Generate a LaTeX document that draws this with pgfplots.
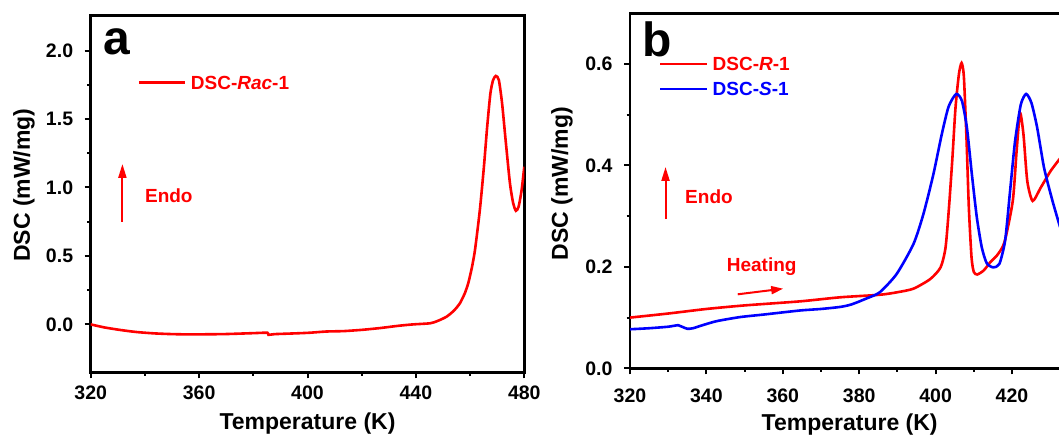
\documentclass[border=0pt]{standalone}
\usepackage{pgfplots}
\pgfplotsset{compat=1.18}
\usetikzlibrary{arrows.meta}
\usepackage{fontspec}
\setmainfont{Liberation Sans}

\pgfplotstableread{
T v
320 0.000
325 -0.022
331 -0.041
337 -0.056
343.7 -0.066
350 -0.071
356.4 -0.073
369 -0.071
380 -0.064
385.2 -0.061
385.6 -0.076
388 -0.071
395 -0.066
400.8 -0.061
407 -0.052
413.4 -0.049
420 -0.040
426.7 -0.027
433.7 -0.010
439 0.000
445.2 0.008
448 0.025
451.3 0.056
454 0.100
456.2 0.153
458 0.225
459.3 0.300
460.6 0.410
461.8 0.543
463.6 0.836
465.1 1.152
466.3 1.444
467.5 1.689
468.5 1.786
469.5 1.815
470.6 1.786
471.8 1.615
473.1 1.347
474.7 1.031
475.9 0.885
476.9 0.830
477.9 0.860
479.0 0.980
480.0 1.152
}\rac

\pgfplotstableread{
T v
320 0.100
330 0.108
340 0.117
350 0.124
364.5 0.132
375 0.140
385.4 0.145
390 0.150
394.2 0.157
398.6 0.176
401.3 0.199
402.6 0.238
403.5 0.317
404.4 0.415
405.2 0.513
406.1 0.580
406.8 0.602
407.4 0.575
408.1 0.450
408.7 0.317
409.4 0.219
410.0 0.190
410.9 0.185
412.6 0.193
414.4 0.210
416.0 0.222
418.0 0.248
420.2 0.330
421.2 0.428
422.1 0.503
423.0 0.461
424.0 0.369
425.4 0.330
427.5 0.356
430.1 0.389
432.6 0.414
}\rone

\pgfplotstableread{
T v
320 0.077
325 0.079
330 0.082
332.6 0.085
333.6 0.082
335.0 0.078
336.5 0.079
339 0.085
342.7 0.093
348.8 0.101
355 0.106
364.5 0.114
370 0.117
375 0.121
378 0.126
382 0.138
385.4 0.150
389.8 0.186
394.2 0.245
396.8 0.304
399.4 0.382
401.6 0.461
403.4 0.516
405.4 0.541
406.9 0.527
408.2 0.474
409.5 0.382
410.8 0.297
412.1 0.238
413.4 0.207
415.1 0.199
416.7 0.206
418.2 0.252
419.5 0.350
420.8 0.448
422.3 0.520
423.7 0.541
425.1 0.523
426.6 0.474
428.4 0.395
430.6 0.330
432.6 0.278
}\sone

\tikzset{ann/.style={red, inner sep=0pt, anchor=base west, font=\fontsize{19}{19}\selectfont\bfseries}}

\pgfplotsset{
  dsc/.style={
    scale only axis, anchor=south west,
    axis line style={line width=2.6pt},
    every tick/.style={black, line width=2pt},
    tick align=outside, major tick length=6pt, minor tick length=3.5pt,
    tick pos=left,
    minor x tick num=1, minor y tick num=1,
    /pgf/number format/assume math mode=true,
    ticklabel style={font=\fontsize{19.5}{20}\selectfont\bfseries},
    label style={font=\fontsize{23}{24}\selectfont\bfseries},
    xticklabel style={anchor=north, inner sep=0pt, yshift=-7.7pt, /pgf/number format/1000 sep={}},
    yticklabel style={anchor=east, inner sep=0pt, xshift=-11.4pt,
      /pgf/number format/fixed, /pgf/number format/fixed zerofill, /pgf/number format/precision=1},
    clip mode=individual,
  },
}

\begin{document}
\begin{tikzpicture}
\path[use as bounding box] (0pt,0pt) rectangle (1059pt,436pt);

% ---------- panel a ----------
\begin{axis}[dsc,
  at={(90.7pt,63.7pt)}, width=433.6pt, height=356.6pt,
  xmin=320, xmax=480, ymin=-0.35, ymax=2.255,
  xtick={320,360,400,440,480},
  ytick={0,0.5,1.0,1.5,2.0},
  xlabel={Temperature (K)}, ylabel={DSC (mW/mg)},
  xlabel style={at={(rel axis cs:0.5,0)}, anchor=base, yshift=-57pt},
  ylabel style={at={(rel axis cs:-0.1538,0.525)}, anchor=center},
]
\addplot[red, line width=2.6pt, smooth, tension=0.4] table[x=T, y=v] {\rac};
\node[anchor=base west, inner sep=0pt, font=\fontsize{48}{48}\selectfont\bfseries] at (axis cs:324.5,1.969) {a};
\draw[red, line width=2.6pt] (axis cs:337.8,1.769) -- (axis cs:354.8,1.769);
\node[ann] at (axis cs:356.9,1.713) {DSC-\textit{Rac}-1};
\draw[red, line width=2pt, -{Triangle[length=14pt,width=8pt]}] (axis cs:331.7,0.75) -- (axis cs:331.7,1.172);
\node[ann] at (axis cs:340,0.889) {Endo};
\end{axis}

% ---------- panel b ----------
\begin{axis}[dsc,
  at={(630pt,67.7pt)}, width=439.3pt, height=355pt,
  xmin=320, xmax=435, ymin=0, ymax=0.7,
  xtick={320,340,360,380,400,420},
  ytick={0,0.2,0.4,0.6},
  xlabel={Temperature (K)}, ylabel={DSC (mW/mg)},
  xlabel style={at={(rel axis cs:0.5,0)}, anchor=base, yshift=-62pt},
  ylabel style={at={(rel axis cs:-0.1548,0.52)}, anchor=center},
  xticklabel style={yshift=-7pt},
]
\addplot[red, line width=2.6pt, smooth, tension=0.4] table[x=T, y=v] {\rone};
\addplot[blue, line width=2.6pt, smooth, tension=0.4] table[x=T, y=v] {\sone};
\node[anchor=base west, inner sep=0pt, font=\fontsize{48}{48}\selectfont\bfseries] at (axis cs:323.1,0.614) {b};
\draw[red, line width=2.6pt] (axis cs:327.9,0.6) -- (axis cs:340.1,0.6);
\node[ann] at (axis cs:341.6,0.587) {DSC-\textit{R}-1};
\draw[blue, line width=2.6pt] (axis cs:327.9,0.551) -- (axis cs:340.1,0.551);
\node[ann, blue] at (axis cs:341.6,0.538) {DSC-\textit{S}-1};
\draw[red, line width=2pt, -{Triangle[length=14pt,width=8pt]}] (axis cs:329.3,0.294) -- (axis cs:329.3,0.397);
\node[ann] at (axis cs:334.4,0.325) {Endo};
\node[ann] at (axis cs:345.3,0.191) {Heating};
\draw[red, line width=2pt, -{Triangle[length=12pt,width=8pt]}] (axis cs:348.2,0.1459) -- (axis cs:360.1,0.157);
\end{axis}
\end{tikzpicture}
\end{document}
